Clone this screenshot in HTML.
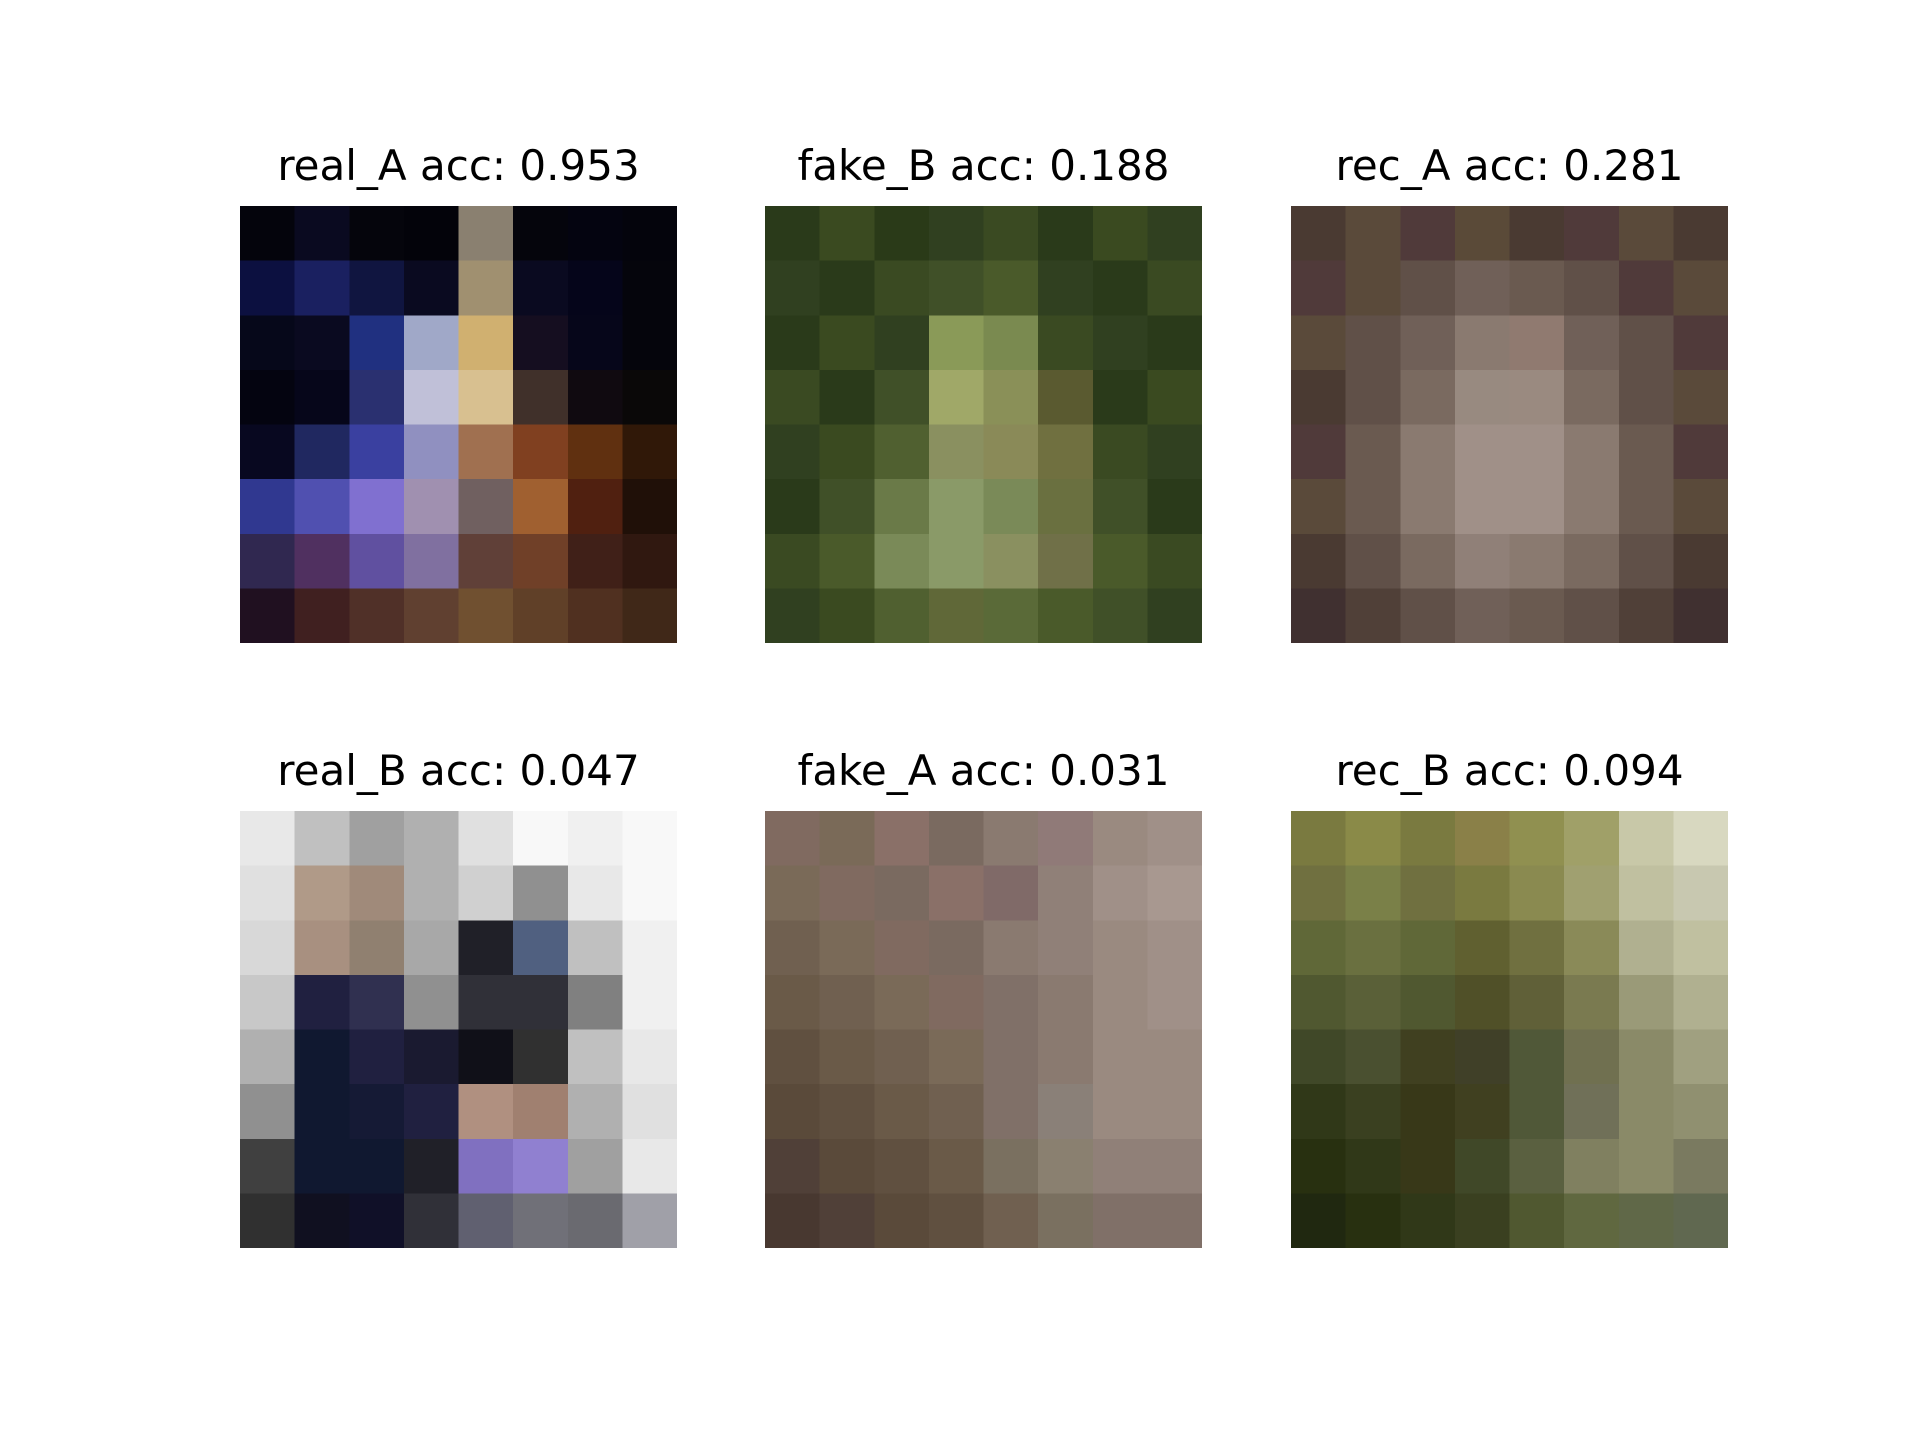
<!DOCTYPE html>
<html><head><meta charset="utf-8">
<style>
html,body{margin:0;padding:0;background:#fff;}
#root{position:relative;width:1920px;height:1440px;background:#fff;overflow:hidden;font-family:"DejaVu Sans","Liberation Sans",sans-serif;}
.title{position:absolute;left:0;width:437px;text-align:center;font-size:42px;color:#000;line-height:1;white-space:nowrap;}
svg.panel{position:absolute;width:437px;height:437px;shape-rendering:crispEdges;}
</style></head>
<body>
<div id="root"></div>
<script>
const titles=["real_A acc: 0.953","fake_B acc: 0.188","rec_A acc: 0.281","real_B acc: 0.047","fake_A acc: 0.031","rec_B acc: 0.094"];
const names=["real-a","fake-b","rec-a","real-b","fake-a","rec-b"];
const g1=[
["#04040c","#0a0a20","#05050c","#03030a","#8a8070","#05050c","#040410","#04040c"],
["#0c1040","#1a2060","#101540","#0a0a20","#a09070","#0a0a20","#05051a","#05050c"],
["#06081a","#0a0a20","#203080","#a0a8c8","#d0b070","#150e20","#06061a","#05050c"],
["#040410","#06061a","#2a3070","#c0c0d8","#d8c090","#40302a","#100a10","#0a0808"],
["#080820","#202860","#3a40a0","#9090c0","#a07050","#804020","#603010","#301808"],
["#303890","#5050b0","#8070d0","#a090b0","#706060","#a06030","#502010","#201008"],
["#302850","#503060","#6050a0","#8070a0","#604038","#704028","#402018","#301810"],
["#201020","#402020","#503028","#604030","#705030","#604028","#503020","#402818"]];
const g2=[
["#2a3a1a","#3a4a20","#2a3a18","#304020","#3a4a22","#2a3a1a","#3a4a20","#304020"],
["#304020","#2a3a1a","#3a4a22","#405028","#4a5a2a","#304020","#2a3a1a","#3a4a22"],
["#2a3a1a","#3a4a20","#304020","#8a9a58","#7a8a50","#3a4a22","#304020","#2a3a1a"],
["#3a4a22","#2a3a1a","#405028","#a0a868","#8a9058","#5a5a30","#2a3a1a","#3a4a20"],
["#304020","#3a4a20","#506030","#8a9060","#8a8a58","#707040","#3a4a22","#304020"],
["#2a3a1a","#405028","#6a7a48","#8a9a68","#7a8a58","#6a7040","#405028","#2a3a1a"],
["#3a4a22","#4a5a2a","#7a8a58","#8a9a68","#8a9060","#707048","#4a5a2a","#3a4a22"],
["#304020","#3a4a20","#506030","#606838","#5a6a38","#4a5a2a","#405028","#304020"]];
const g3=[
["#4a3a32","#5a4a3a","#503a3a","#5a4a38","#4a3a32","#503a3a","#5a4a3a","#4a3a32"],
["#503a3a","#5a4a3a","#605048","#706058","#6a5a50","#605048","#503a3a","#5a4a3a"],
["#5a4a3a","#605048","#706058","#8a7a70","#907a70","#706058","#605048","#503a3a"],
["#4a3a32","#605048","#7a6a60","#988a80","#9a8a80","#7a6a60","#605048","#5a4a3a"],
["#503a3a","#6a5a50","#8a7a70","#a09088","#a09088","#8a7a70","#6a5a50","#503a3a"],
["#5a4a3a","#6a5a50","#8a7a70","#a09088","#a09088","#8a7a70","#6a5a50","#5a4a3a"],
["#4a3a32","#605048","#7a6a60","#908078","#8a7a70","#7a6a60","#605048","#4a3a32"],
["#403030","#504038","#605048","#706058","#6a5a50","#605048","#504038","#403030"]];
const g4=[
["#e8e8e8","#c0c0c0","#a0a0a0","#b0b0b0","#e0e0e0","#f8f8f8","#f0f0f0","#f8f8f8"],
["#e0e0e0","#b09a88","#a08a7a","#b0b0b0","#d0d0d0","#909090","#e8e8e8","#f8f8f8"],
["#d8d8d8","#a89080","#908070","#a8a8a8","#202028","#506080","#c0c0c0","#f0f0f0"],
["#c8c8c8","#202040","#303050","#909090","#303038","#303038","#808080","#f0f0f0"],
["#b0b0b0","#101830","#202040","#1a1a30","#101018","#303030","#c0c0c0","#e8e8e8"],
["#909090","#101830","#151a35","#202040","#b09080","#a08070","#b0b0b0","#e0e0e0"],
["#404040","#101830","#101830","#202028","#8070c0","#9080d0","#a0a0a0","#e8e8e8"],
["#303030","#101020","#101028","#303038","#606070","#707078","#6a6a70","#a0a0a8"]];
const g5=[
["#806a60","#7a6a58","#8a7068","#7a6a60","#8a7a70","#907a78","#9a8a80","#a09088"],
["#7a6a58","#806a60","#7a6a60","#8a7068","#806a68","#908078","#a09088","#a89890"],
["#706050","#7a6a58","#806a60","#7a6a60","#8a7a70","#908078","#9a8a80","#a09088"],
["#6a5a48","#706050","#7a6a58","#806a60","#807068","#8a7a70","#9a8a80","#a09088"],
["#605040","#6a5a48","#706050","#7a6a58","#807068","#8a7a70","#9a8a80","#9a8a80"],
["#5a4a3a","#605040","#6a5a48","#706050","#807068","#8a8078","#9a8a80","#9a8a80"],
["#504038","#5a4a3a","#605040","#6a5a48","#7a7060","#8a8070","#908078","#908078"],
["#483830","#504038","#5a4a3a","#605040","#706050","#7a7060","#807068","#807068"]];
const g6=[
["#7a7a40","#8a8a48","#7a7a40","#8a8048","#909050","#a0a068","#c8c8a8","#d8d8c0"],
["#707040","#7a8048","#707040","#7a7a40","#8a8a50","#a0a070","#c0c0a0","#c8c8b0"],
["#606838","#6a7040","#606838","#606030","#707040","#8a8a58","#b0b090","#c0c0a0"],
["#505830","#5a6038","#505830","#505028","#606038","#7a7a50","#9a9a78","#b0b090"],
["#404828","#4a5030","#404020","#404028","#505838","#707050","#8a8a68","#a0a080"],
["#303818","#3a4020","#383818","#404020","#505838","#707058","#8a8a68","#909070"],
["#283010","#303818","#383818","#404828","#5a6040","#808060","#8a8a68","#7a7a60"],
["#202810","#283010","#303818","#3a4020","#505830","#606840","#606848","#606850"]];
const grids=[g1,g2,g3,g4,g5,g6];
const colX=[240,765,1291], rowY=[206,811], S=437;
const root=document.getElementById('root');
const NS='http://www.w3.org/2000/svg';
for(let p=0;p<6;p++){
  const c=p%3, r=Math.floor(p/3);
  const t=document.createElement('div');
  t.className='title';
  
  
  t.style.left=colX[c]+'px'; t.style.top=(rowY[r]-61)+'px';
  t.textContent=titles[p];
  root.appendChild(t);
  const svg=document.createElementNS(NS,'svg');
  svg.setAttribute('class','panel');
  
  
  svg.setAttribute('viewBox','0 0 8 8');
  svg.setAttribute('preserveAspectRatio','none');
  svg.style.left=colX[c]+'px'; svg.style.top=rowY[r]+'px';
  const g=grids[p];
  for(let i=0;i<8;i++)for(let j=0;j<8;j++){
    const rc=document.createElementNS(NS,'rect');
    rc.setAttribute('x',j);rc.setAttribute('y',i);rc.setAttribute('width',1.02);rc.setAttribute('height',1.02);
    rc.setAttribute('fill',g[i][j]);
    svg.appendChild(rc);
  }
  root.appendChild(svg);
}
</script>
</body></html>
